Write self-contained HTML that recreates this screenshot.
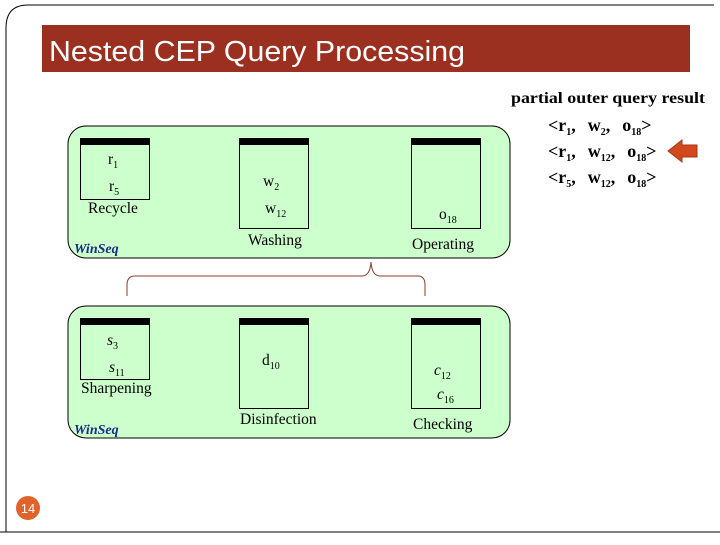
<!DOCTYPE html>
<html><head><style>
body{margin:0;width:720px;height:540px;background:#fff;overflow:hidden}
svg text{font-family:"Liberation Serif",serif}
</style></head><body>
<svg width="720" height="540" viewBox="0 0 720 540">
<path d="M6,532 V28 Q6,5 28,5 H714" fill="none" stroke="#000" stroke-width="1"/>
<line x1="0" y1="532" x2="720" y2="532" stroke="#000" stroke-width="1"/>
<rect x="42" y="25" width="648" height="47" fill="#9c3020"/>
<text x="49" y="61" fill="#fff" font-size="29" textLength="416" lengthAdjust="spacingAndGlyphs" style="font-family:'Liberation Sans',sans-serif">Nested CEP Query Processing</text>

<text x="511" y="103" font-size="16" font-weight="bold" textLength="194" lengthAdjust="spacingAndGlyphs">partial outer query result</text>
<g font-size="18" font-weight="bold">
<text x="548" y="131">&lt;r<tspan font-size="10" dy="4">1</tspan><tspan dy="-4">,</tspan><tspan dx="12">w</tspan><tspan font-size="10" dy="4">2</tspan><tspan dy="-4">,</tspan><tspan dx="12">o</tspan><tspan font-size="10" dy="4">18</tspan><tspan dy="-4">&gt;</tspan></text>
<text x="548" y="157">&lt;r<tspan font-size="10" dy="4">1</tspan><tspan dy="-4">,</tspan><tspan dx="12">w</tspan><tspan font-size="10" dy="4">12</tspan><tspan dy="-4">,</tspan><tspan dx="12">o</tspan><tspan font-size="10" dy="4">18</tspan><tspan dy="-4">&gt;</tspan></text>
<text x="548" y="183">&lt;r<tspan font-size="10" dy="4">5</tspan><tspan dy="-4">,</tspan><tspan dx="12">w</tspan><tspan font-size="10" dy="4">12</tspan><tspan dy="-4">,</tspan><tspan dx="12">o</tspan><tspan font-size="10" dy="4">18</tspan><tspan dy="-4">&gt;</tspan></text>
</g>
<polygon points="668,151 682,140 682,145 697,145 697,157 682,157 682,162" fill="#d04a1c" stroke="#a8341a"/>

<rect x="68" y="126" width="442" height="132" rx="18" fill="#ccffcc" stroke="#000"/>
<g stroke="#000" fill="none">
<rect x="80.5" y="138.5" width="69" height="61"/>
<rect x="239.5" y="138.5" width="69" height="90"/>
<rect x="411.5" y="138.5" width="69" height="90"/>
</g>
<rect x="80" y="138" width="70" height="7"/>
<rect x="239" y="138" width="70" height="7"/>
<rect x="411" y="138" width="70" height="7"/>
<g font-size="15.5">
<text x="108" y="164">r<tspan font-size="10" dy="4">1</tspan></text>
<text x="109" y="191">r<tspan font-size="10" dy="4">5</tspan></text>
<text x="88" y="213">Recycle</text>
<text x="263" y="186">w<tspan font-size="10" dy="4">2</tspan></text>
<text x="265" y="213">w<tspan font-size="10" dy="4">12</tspan></text>
<text x="248" y="245">Washing</text>
<text x="439" y="219">o<tspan font-size="10" dy="4">18</tspan></text>
<text x="412" y="249">Operating</text>
</g>
<text x="74" y="253" font-size="14" font-style="italic" font-weight="bold" fill="#1a2a88">WinSeq</text>
<path d="M127,296 V285 Q127,276 135,276 H362 Q370,276 371,262 Q372,276 380,276 H418 Q425,276 425,285 V296" fill="none" stroke="#8b3a2a" stroke-width="1"/>

<rect x="68" y="306" width="442" height="132" rx="18" fill="#ccffcc" stroke="#000"/>
<g stroke="#000" fill="none">
<rect x="80.5" y="318.5" width="69" height="61"/>
<rect x="239.5" y="318.5" width="69" height="90"/>
<rect x="411.5" y="318.5" width="69" height="90"/>
</g>
<rect x="80" y="318" width="70" height="7"/>
<rect x="239" y="318" width="70" height="7"/>
<rect x="411" y="318" width="70" height="7"/>
<g font-size="15.5">
<text x="107" y="345" font-style="italic">s<tspan font-size="10" dy="4" font-style="normal">3</tspan></text>
<text x="109" y="372" font-style="italic">s<tspan font-size="10" dy="4" font-style="normal">11</tspan></text>
<text x="81" y="393">Sharpening</text>
<text x="262" y="365">d<tspan font-size="10" dy="4">10</tspan></text>
<text x="434" y="375" font-style="italic">c<tspan font-size="10" dy="4" font-style="normal">12</tspan></text>
<text x="437" y="399" font-style="italic">c<tspan font-size="10" dy="4" font-style="normal">16</tspan></text>
<text x="240" y="424">Disinfection</text>
<text x="413" y="429">Checking</text>
</g>
<text x="74" y="434" font-size="14" font-style="italic" font-weight="bold" fill="#1a2a88">WinSeq</text>

<circle cx="28" cy="508" r="12" fill="#e0642a"/>
<text x="28" y="513" font-size="13" fill="#fff" text-anchor="middle" style="font-family:'Liberation Sans',sans-serif">14</text>
</svg>
</body></html>
